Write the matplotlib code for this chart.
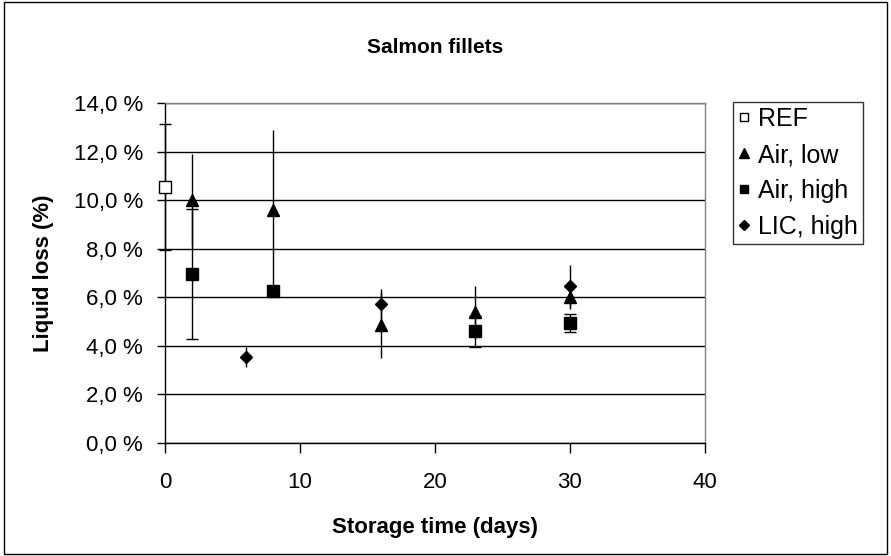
import matplotlib
matplotlib.use("Agg")
import matplotlib.pyplot as plt
from matplotlib.ticker import FuncFormatter, MultipleLocator
from matplotlib.patches import Rectangle
from matplotlib.lines import Line2D

plt.rcParams['font.family'] = ['Liberation Sans', 'DejaVu Sans']

# data (days, liquid loss %, error +/-)
ref_x = [0]
ref_y = [10.55]
ref_err = [2.6]

air_low_x = [2, 8, 16, 23, 30]
air_low_y = [10.0, 9.6, 4.85, 5.4, 6.0]
air_low_err = [1.9, 3.3, 1.35, 1.07, 0.5]

air_high_x = [2, 8, 23, 30]
air_high_y = [6.95, 6.26, 4.6, 4.94]
air_high_err = [2.67, 0.2, 0.65, 0.37]

lic_high_x = [6, 16, 30]
lic_high_y = [3.54, 5.72, 6.46]
lic_high_err = [0.43, 0.62, 0.87]

fig = plt.figure(figsize=(8.91, 5.56), dpi=100)
ax = fig.add_axes([0.1852, 0.2032, 0.606, 0.6115])

# outer chart border
fig.patches.append(Rectangle((0.004, 0.004), 0.992, 0.992, transform=fig.transFigure,
                             fill=False, edgecolor='black', linewidth=1.0))

ax.yaxis.grid(True, color='black', linewidth=1.0)
ax.set_axisbelow(True)


def draw(x, y, err, marker, ms, face, cap):
    cont = ax.errorbar(x, y, yerr=err, fmt=marker, ms=ms, mfc=face, mec='black',
                       mew=1.0, ecolor='black', elinewidth=1.0, capsize=cap,
                       capthick=1.0, zorder=3)
    for art in cont.get_children():
        art.set_clip_on(False)


draw(ref_x, ref_y, ref_err, 's', 8, 'white', 4)
draw(air_low_x, air_low_y, air_low_err, '^', 9, 'black', 0)
draw(air_high_x, air_high_y, air_high_err, 's', 8, 'black', 4)
draw(lic_high_x, lic_high_y, lic_high_err, 'D', 6.5, 'black', 0)

ax.set_xlim(0, 40)
ax.set_ylim(0, 14)
ax.xaxis.set_major_locator(MultipleLocator(10))
ax.yaxis.set_major_locator(MultipleLocator(2))
ax.yaxis.set_major_formatter(FuncFormatter(lambda v, p: f"{v:.1f} %".replace('.', ',')))
ax.tick_params(axis='x', direction='out', length=7, width=1.0, labelsize=16, pad=14)
ax.tick_params(axis='y', direction='out', length=6, width=1.0, labelsize=16, pad=10)

for side in ['left', 'bottom']:
    ax.spines[side].set_color('black')
    ax.spines[side].set_linewidth(1.0)
for side in ['top', 'right']:
    ax.spines[side].set_color('#808080')
    ax.spines[side].set_linewidth(1.0)

ax.set_title('Salmon fillets', fontsize=15, fontweight='bold', pad=36)
ax.set_xlabel('Storage time (days)', fontsize=16, fontweight='bold', labelpad=17)
ax.set_ylabel('Liquid loss (%)', fontsize=16, fontweight='bold', labelpad=14)

labels = ['REF', 'Air, low', 'Air, high', 'LIC, high']
handles = [
    Line2D([], [], ls='none', marker='s', ms=6, mfc='white', mec='black', mew=1.0),
    Line2D([], [], ls='none', marker='^', ms=7, color='black'),
    Line2D([], [], ls='none', marker='s', ms=6, color='black'),
    Line2D([], [], ls='none', marker='D', ms=5, color='black'),
]
leg = ax.legend(handles, labels, loc='upper left', bbox_to_anchor=(1.052, 1.003),
                fontsize=18, frameon=True, fancybox=False, edgecolor='black',
                handlelength=0.45, handletextpad=0.35, borderpad=0.2,
                labelspacing=0.48, borderaxespad=0)
leg.get_frame().set_linewidth(1.0)

fig.savefig('out.png', dpi=100)
